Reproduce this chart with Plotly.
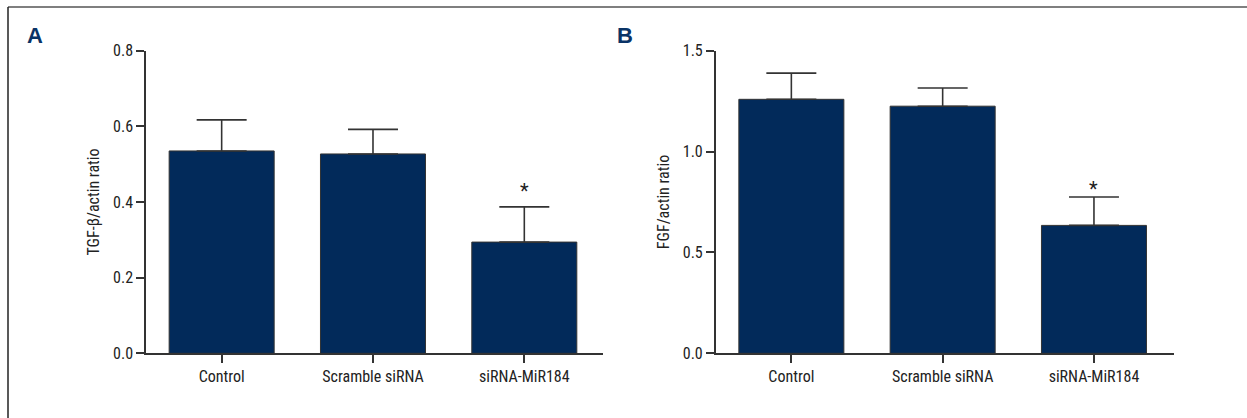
import plotly.graph_objects as go

categories = ["Control", "Scramble siRNA", "siRNA-MiR184"]
tgf_mean = [0.535, 0.527, 0.294]
tgf_err = [0.082, 0.065, 0.093]
fgf_mean = [1.259, 1.225, 0.634]
fgf_err = [0.130, 0.090, 0.141]
tgf_ticks = [0.0, 0.2, 0.4, 0.6, 0.8]
fgf_ticks = [0.0, 0.5, 1.0, 1.5]

W, H = 1247, 418
BAR = "#022a5a"
LINE = "#333333"
FONT = "Liberation Sans Narrow, Roboto Condensed, Liberation Sans, Arial, sans-serif"
FS = 16

fig = go.Figure()

def add_bars(means, errs, xa, ya):
    fig.add_trace(go.Bar(
        x=categories, y=means, xaxis=xa, yaxis=ya, width=0.694,
        marker=dict(color=BAR, line=dict(color=LINE, width=1)),
        error_y=dict(type="data", symmetric=False, array=errs,
                     arrayminus=[0] * len(errs), color=LINE, thickness=1.6, width=25),
        showlegend=False, hoverinfo="x+y",
    ))

add_bars(tgf_mean, tgf_err, "x", "y")
add_bars(fgf_mean, fgf_err, "x2", "y2")

def px_x(p):
    return p / W

def px_y(p):
    return 1 - p / H

axis_common = dict(showgrid=False, zeroline=False, showline=True, linecolor=LINE, linewidth=1.5,
                   ticks="outside", ticklen=8, tickwidth=1.5, tickcolor=LINE, automargin=False,
                   tickfont=dict(family=FONT, size=FS, color="#222222"))

fig.update_layout(
    width=W, height=H, margin=dict(l=0, r=0, t=0, b=0, pad=0, autoexpand=False),
    paper_bgcolor="white", plot_bgcolor="white", bargap=0.3,
    xaxis=dict(domain=[px_x(146), px_x(603.3)], range=[-0.5, 2.522], anchor="y", **axis_common),
    yaxis=dict(domain=[px_y(353.3), px_y(50.7)], range=[0, 0.8], anchor="x",
               tickvals=tgf_ticks, ticktext=[f"{v:.1f}" for v in tgf_ticks],
               title=dict(text="TGF-β/actin ratio", standoff=9,
                          font=dict(family=FONT, size=FS, color="#222222")),
               **axis_common),
    xaxis2=dict(domain=[px_x(715.7), px_x(1173.7)], range=[-0.5, 2.527], anchor="y2", **axis_common),
    yaxis2=dict(domain=[px_y(353.3), px_y(50.7)], range=[0, 1.5], anchor="x2",
                tickvals=fgf_ticks, ticktext=[f"{v:.1f}" for v in fgf_ticks],
                title=dict(text="FGF/actin ratio", standoff=9,
                           font=dict(family=FONT, size=FS, color="#222222")),
                **axis_common),
)

# significance markers
fig.add_annotation(x=categories[2], y=tgf_mean[2] + tgf_err[2], xref="x", yref="y",
                   text="*", showarrow=False, yshift=16,
                   font=dict(family=FONT, size=20, color="#222222"))
fig.add_annotation(x=categories[2], y=fgf_mean[2] + fgf_err[2], xref="x2", yref="y2",
                   text="*", showarrow=False, yshift=8,
                   font=dict(family=FONT, size=20, color="#222222"))

# panel letters
for letter, cx in (("A", 35), ("B", 625)):
    fig.add_annotation(x=px_x(cx), y=px_y(35), xref="paper", yref="paper", text=f"<b>{letter}</b>",
                       showarrow=False, xanchor="center", yanchor="middle",
                       font=dict(family="Liberation Sans, Arial, sans-serif", size=22, color="#0a3366"))

# frame lines
fig.add_shape(type="line", xref="paper", yref="paper", x0=px_x(8), x1=1.0, y0=px_y(7), y1=px_y(7),
              line=dict(color="#555555", width=1.5))
fig.add_shape(type="line", xref="paper", yref="paper", x0=px_x(8), x1=px_x(8), y0=px_y(7), y1=0.0,
              line=dict(color="#222222", width=1.5))

fig.write_html("out.html", config={"displayModeBar": False},
               post_script="document.body.style.margin='0';document.body.style.overflow='hidden';")
